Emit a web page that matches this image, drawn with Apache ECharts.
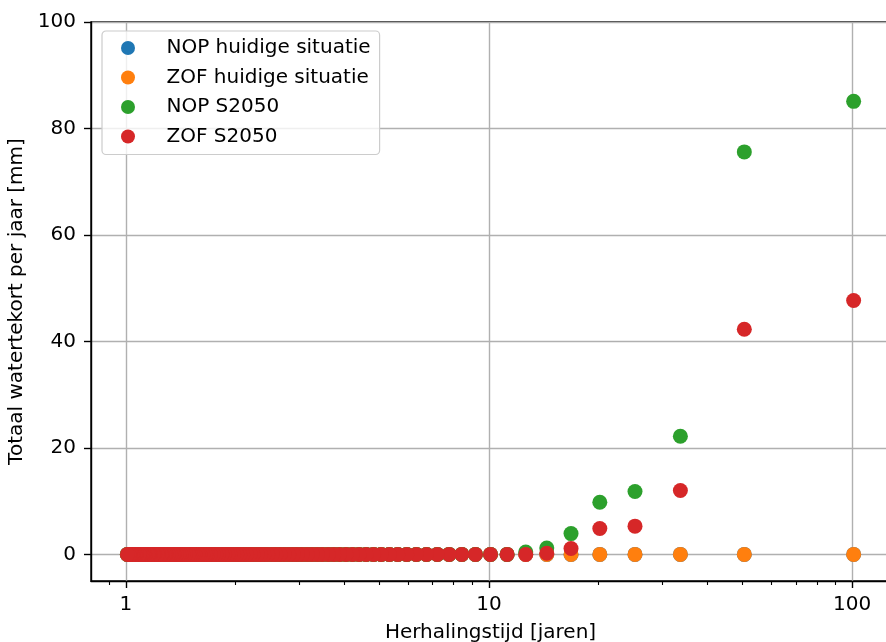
<!DOCTYPE html>
<html>
<head>
<meta charset="utf-8">
<script src="https://cdn.jsdelivr.net/npm/echarts@6/dist/echarts.min.js"></script>
<style>html,body{margin:0;padding:0;background:#fff;}#c{width:886px;height:642px;}</style>
</head>
<body>
<div id="c"></div>
<script>
// Return periods (years) of the ranked years
const returnPeriods = [
  101, 50.5, 33.67, 25.25, 20.2, 16.83, 14.43, 12.63, 11.22, 10.1,
  9.18, 8.42, 7.77, 7.21, 6.73, 6.31, 5.94, 5.61, 5.32, 5.05,
  4.81, 4.59, 4.39, 4.21, 4.04, 3.88, 3.74, 3.61, 3.48, 3.37,
  3.26, 3.16, 3.06, 2.97, 2.89, 2.81, 2.73, 2.66, 2.59, 2.53,
  2.46, 2.40, 2.35, 2.30, 2.24, 2.20, 2.15, 2.10, 2.06, 2.02,
  1.98, 1.94, 1.91, 1.87, 1.84, 1.80, 1.77, 1.74, 1.71, 1.68,
  1.66, 1.63, 1.60, 1.58, 1.55, 1.53, 1.51, 1.49, 1.46, 1.44,
  1.42, 1.40, 1.38, 1.36, 1.35, 1.33, 1.31, 1.29, 1.28, 1.26,
  1.25, 1.23, 1.22, 1.20, 1.19, 1.17, 1.16, 1.15, 1.13, 1.12,
  1.11, 1.10, 1.09, 1.07, 1.06, 1.05, 1.04, 1.03, 1.02, 1.01
];
const nopHuidig = [
  0,0,0,0,0,0,0,0,0,0, 0,0,0,0,0,0,0,0,0,0,
  0,0,0,0,0,0,0,0,0,0, 0,0,0,0,0,0,0,0,0,0,
  0,0,0,0,0,0,0,0,0,0, 0,0,0,0,0,0,0,0,0,0,
  0,0,0,0,0,0,0,0,0,0, 0,0,0,0,0,0,0,0,0,0,
  0,0,0,0,0,0,0,0,0,0, 0,0,0,0,0,0,0,0,0,0
];
const zofHuidig = [
  0,0,0,0,0,0,0,0,0,0, 0,0,0,0,0,0,0,0,0,0,
  0,0,0,0,0,0,0,0,0,0, 0,0,0,0,0,0,0,0,0,0,
  0,0,0,0,0,0,0,0,0,0, 0,0,0,0,0,0,0,0,0,0,
  0,0,0,0,0,0,0,0,0,0, 0,0,0,0,0,0,0,0,0,0,
  0,0,0,0,0,0,0,0,0,0, 0,0,0,0,0,0,0,0,0,0
];
const nopS2050 = [
  85.1, 75.6, 22.2, 11.8, 9.8, 3.9, 1.2, 0.45, 0,0,
  0,0,0,0,0,0,0,0,0,0, 0,0,0,0,0,0,0,0,0,0,
  0,0,0,0,0,0,0,0,0,0, 0,0,0,0,0,0,0,0,0,0,
  0,0,0,0,0,0,0,0,0,0, 0,0,0,0,0,0,0,0,0,0,
  0,0,0,0,0,0,0,0,0,0, 0,0,0,0,0,0,0,0,0,0,
  0,0,0,0,0,0,0,0,0,0
];
const zofS2050 = [
  47.7, 42.3, 12.0, 5.3, 4.85, 1.1, 0.2, 0, 0, 0,
  0,0,0,0,0,0,0,0,0,0, 0,0,0,0,0,0,0,0,0,0,
  0,0,0,0,0,0,0,0,0,0, 0,0,0,0,0,0,0,0,0,0,
  0,0,0,0,0,0,0,0,0,0, 0,0,0,0,0,0,0,0,0,0,
  0,0,0,0,0,0,0,0,0,0, 0,0,0,0,0,0,0,0,0,0,
  0,0,0,0,0,0,0,0,0,0
];
const seriesNames = ['NOP huidige situatie', 'ZOF huidige situatie', 'NOP S2050', 'ZOF S2050'];
const seriesColors = ['#1f77b4', '#ff7f0e', '#2ca02c', '#d62728'];
const xMajorTicks = [1, 10, 100];
const xMinorTicks = [0.9, 2, 3, 4, 5, 6, 7, 8, 9, 20, 30, 40, 50, 60, 70, 80, 90];
const yTicks = [0, 20, 40, 60, 80, 100];
const xMin = 0.802, xMax = 127.2, yMin = -5, yMax = 100;

const font = 'DejaVu Sans';
const fs = 20;
const allValues = [nopHuidig, zofHuidig, nopS2050, zofS2050];

const chart = echarts.init(document.getElementById('c'), null, {renderer: 'canvas'});
chart.setOption({
  animation: false,
  backgroundColor: '#ffffff',
  grid: {
    left: 91, top: 22, width: 799, height: 559,
    outerBoundsMode: 'none', containLabel: false,
    show: true, borderColor: '#000', borderWidth: 1.4, backgroundColor: 'transparent'
  },
  legend: {
    left: 102, top: 31,
    orient: 'vertical',
    icon: 'circle',
    itemWidth: 41, itemHeight: 14, itemGap: 7.5,
    padding: [6, 9, 7, 19],
    borderColor: '#cccccc', borderWidth: 1.2, borderRadius: 4,
    backgroundColor: 'rgba(255,255,255,0.8)',
    formatter: name => '{g|\u00a0}{t|' + name + '}',
    textStyle: {
      fontFamily: font, fontSize: fs, color: '#000', lineHeight: 22,
      rich: {
        g: {width: 13, fontSize: fs, lineHeight: 22},
        t: {fontFamily: font, fontSize: fs, color: '#000', lineHeight: 22}
      }
    },
    data: seriesNames
  },
  xAxis: [{
    type: 'log', logBase: 10, min: xMin, max: xMax,
    gridIndex: 0, position: 'bottom',
    name: 'Herhalingstijd [jaren]', nameLocation: 'middle', nameGap: 42,
    nameTextStyle: {fontFamily: font, fontSize: fs, color: '#000'},
    axisLine: {show: true, onZero: false, lineStyle: {color: '#000', width: 1.4}},
    axisTick: {show: true, inside: false, length: 7, customValues: xMajorTicks, lineStyle: {color: '#000', width: 1.4}},
    axisLabel: {show: true, customValues: xMajorTicks, margin: 14, fontFamily: font, fontSize: fs, color: '#000',
      formatter: v => String(v)},
    splitLine: {show: true, lineStyle: {color: '#b0b0b0', width: 1.4}},
    minorTick: {show: false}
  }, {
    type: 'log', logBase: 10, min: xMin, max: xMax,
    gridIndex: 0, position: 'bottom',
    axisLine: {show: false, onZero: false},
    axisTick: {show: true, inside: false, length: 4, customValues: xMinorTicks, lineStyle: {color: '#000', width: 1.1}},
    axisLabel: {show: false},
    splitLine: {show: false}
  }],
  yAxis: {
    type: 'value', min: yMin, max: yMax,
    name: 'Totaal watertekort per jaar [mm]', nameLocation: 'middle', nameGap: 57, nameRotate: 90,
    nameTextStyle: {fontFamily: font, fontSize: fs, color: '#000'},
    axisLine: {show: true, onZero: false, lineStyle: {color: '#000', width: 1.4}},
    axisTick: {show: true, inside: false, length: 7, customValues: yTicks, lineStyle: {color: '#000', width: 1.4}},
    axisLabel: {show: true, customValues: yTicks, margin: 15, fontFamily: font, fontSize: fs, color: '#000'},
    splitLine: {show: true, lineStyle: {color: '#b0b0b0', width: 1.4}}
  },
  series: seriesNames.map((name, i) => ({
    name: name,
    type: 'scatter',
    xAxisIndex: 0,
    symbol: 'circle',
    symbolSize: 15,
    itemStyle: {color: seriesColors[i], opacity: 1},
    emphasis: {disabled: true},
    data: returnPeriods.map((t, k) => [t, allValues[i][k]])
  }))
});
</script>
</body>
</html>
